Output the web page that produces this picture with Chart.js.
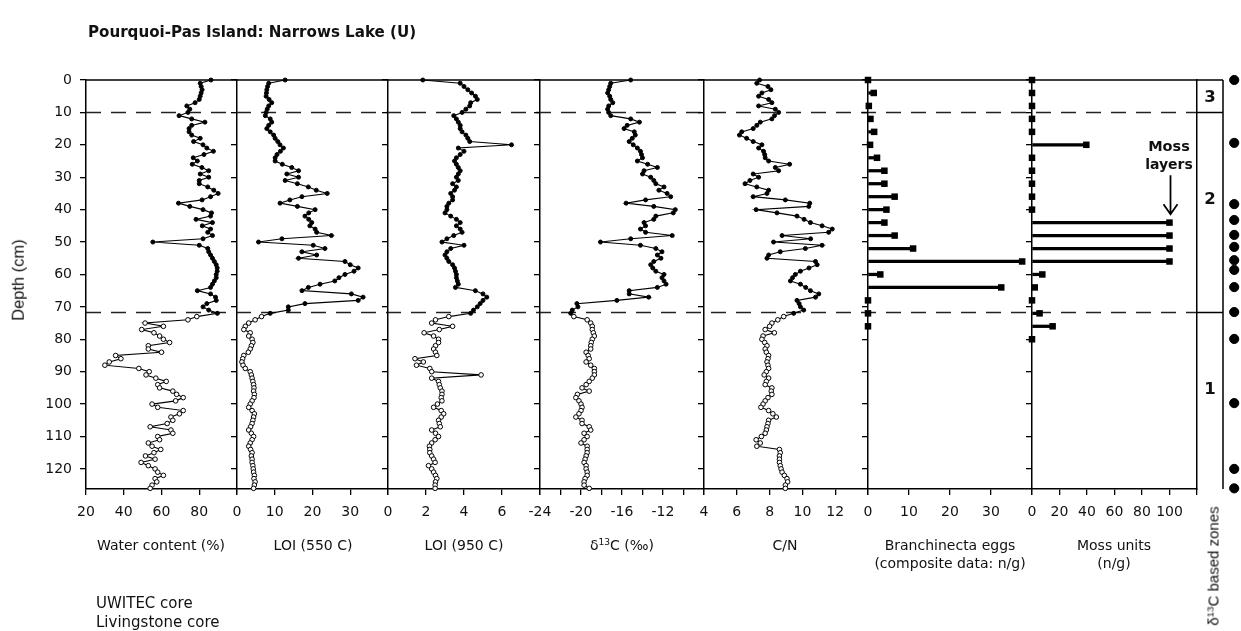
<!DOCTYPE html>
<html>
<head>
<meta charset="utf-8">
<script src="https://cdn.jsdelivr.net/npm/chart.js@4/dist/chart.umd.min.js"></script>
<style>
  body { margin: 0; background: #fff; }
  #wrap { position: relative; width: 1241px; height: 631px; overflow: hidden; font-family: "DejaVu Sans", sans-serif; color: #111; }
  canvas { position: absolute; left: 0; top: 0; }
  .t { position: absolute; white-space: nowrap; line-height: 1; font-size: 14px; transform: translate(-50%, -50%); }
  .l { transform: translate(0, -50%); }
  .v { font-family: "Liberation Sans", Arial, sans-serif; transform: translate(-50%, -50%) rotate(-90deg); }
  sup { font-size: 65%; vertical-align: 0; position: relative; top: -0.5em; }
</style>
</head>
<body>
<div id="wrap"></div>
<script>
// depths (cm)
const upperDepth = [0,1,2,3,4,5,6,7,8,9,10,11,12,13,14,15,16,17,18,19,20,21,22,23,24,25,26,27,28,29,30,31,32,33,34,35,36,37,38,39,40,41,42,43,44,45,46,47,48,49,50,51,52,53,54,55,56,57,58,59,60,61,62,63,64,65,66,67,68,69,70,71,72];
const lowerDepth = [73,74,75,76,77,78,79,80,81,82,83,84,85,86,87,88,89,90,91,92,93,94,95,96,97,98,99,100,101,102,103,104,105,106,107,108,109,110,111,112,113,114,115,116,117,118,119,120,121,122,123,124,125,126];

const waterUpper = [86.2,80.5,81,81.5,81,80.5,80,77.8,73.4,75, 74,69.3,76,83,76,74.6,74.6,76,80.5,77, 82,84,87.5,82.5,76.8,79,76.3,81.4,85,80.5, 85,80,80,84.5,87.7,90,86,81.5,69,75, 82,86.5,86,78.3,87,81.6,86,84.5,87,82, 55.4,80,84.5,85,86,87,88,89,89.5,89.5, 89,89,88,87,86,79,86,88.6,89,84, 82,85,89.6];
const waterLower = [78.7,74,51.3,61,49.5,56,59,61,64.3,53, 53,60,35.7,38.5,32.3,30,48,53.5,51.8,57, 62.5,58,59,66,68,71.5,67.5,55,58,71.5, 69.5,65,66,63,54,65,66,58,59,53, 55,59.6,56,51.5,56.6,49.2,53,56.6,58,61, 56.6,57.5,55,54];

const loi550Upper = [12.75,8.4,8.1,7.9,7.8,7.7,8.5,9.2,8.4,8, 7.7,7.5,8.8,9.2,8.4,7.9,8.8,9.7,10.1,10.8, 11.4,12.3,11.5,10.6,10.1,10.1,12,14.5,16.3,13.2, 16.3,12.75,16,18.9,21,23.9,17.2,14,11.4,16, 20.7,19,18,19,19.8,19.3,20.7,21.1,25,11.9, 5.7,20.2,23.3,17.2,21.1,16.3,28.6,30,32.1,31, 28.6,27,25.9,22,18.9,17.2,30.3,33.4,32.1,18, 13.6,13.6,8.8];
const loi550Lower = [6.5,4.8,3.1,2.2,1.8,3.5,3.1,4,4.2,3.8, 3.5,3,1.8,1.5,1.3,1.6,2.2,3.5,3.8,4, 4.2,4.4,4.5,4.4,4.6,4.5,4,3.5,3.1,4, 4.6,4.4,4.2,4,3.6,3.1,3.8,4.4,4,3.5, 3.1,3.6,4,3.8,4,4,4.2,4.3,4.4,4.6, 4.5,4.8,4.6,4.4];

const loi950Upper = [1.83,3.8,4,4.2,4.4,4.6,4.7,4.35,4.3,4.1, 3.9,3.46,3.6,3.7,3.8,3.8,3.9,4.1,4.2,4.3, 6.5,3.7,4,3.8,3.6,3.5,3.6,3.7,3.8,3.7, 3.6,3.7,3.4,3.6,3.5,3.3,3.4,3.4,3.2,3.1, 3.1,3,3.3,3.6,3.8,3.6,3.8,3.9,3.46,3.1, 2.84,4,3.3,3.1,3,3.1,3.2,3.4,3.5,3.55, 3.6,3.6,3.65,3.7,3.55,4.6,5,5.2,5,4.85, 4.7,4.5,4.35];
const loi950Lower = [3.2,2.5,2.3,3.4,2.7,1.9,2.4,2.66,2.66,2.5, 2.4,2.5,2.57,1.42,1.86,1.5,2.2,2.3,4.9,2.3, 2.66,2.7,2.75,2.84,2.84,2.8,2.84,2.6,2.4,2.8, 2.93,2.8,2.66,2.7,2.75,2.3,2.5,2.66,2.48,2.3, 2.18,2.2,2.2,2.3,2.4,2.48,2.13,2.3,2.4,2.5, 2.57,2.5,2.48,2.48];

const d13cUpper = [-15.15,-17.1,-17.2,-17.3,-17.4,-17.2,-17.1,-16.9,-17.3,-17.4, -17.3,-17.1,-15.15,-14.3,-15.5,-15.8,-14.8,-14.7,-15,-15.3, -14.9,-14.5,-14.2,-14.1,-14,-14.5,-13.5,-12.55,-13.85,-14, -13.2,-12.9,-12.7,-11.9,-12.4,-11.6,-11.25,-13.7,-15.6,-12.9, -10.8,-11,-12.7,-12.9,-13.85,-13.7,-14.2,-13.7,-11.1,-15.15, -18.1,-14.2,-12.7,-12.1,-12.55,-12.2,-12.9,-13.2,-13,-12.7, -11.9,-12.1,-11.9,-11.7,-12.55,-15.3,-15.3,-13.4,-16.5,-20.4, -20.3,-20.85,-21];
const d13cLower = [-20.7,-19.4,-19.05,-18.9,-18.9,-18.8,-18.7,-18.9,-19,-19.05, -19.05,-19.5,-19.3,-19.2,-19.5,-19.05,-18.7,-18.7,-18.7,-18.9, -19.2,-19.5,-19.9,-19.2,-20.35,-20.5,-20.2,-20,-19.9,-20, -20.2,-20.5,-19.9,-19.9,-19.2,-19.05,-19.7,-19.4,-19.7,-20, -19.4,-19.4,-19.4,-19.5,-19.6,-19.7,-19.5,-19.5,-19.4,-19.4, -19.6,-19.7,-19.7,-19.2];

const cnUpper = [7.39,7.22,7.9,8.08,7.53,7.33,7.94,8.14,7.33,8.35, 8.55,8.3,8.14,7.43,7.22,7,6.3,6.16,6.6,7, 7.53,7.33,7.63,7.7,7.73,7.94,9.22,8.35,8.55,7, 7.33,6.8,6.5,7.22,7.94,7.84,7,8.96,10.45,10.39, 7.18,8.45,9.67,10.1,10.49,11.2,11.82,11.6,8.76,10.5, 8.24,11.2,10.18,8.65,7.94,7.84,10.8,10.9,10.4,9.88, 9.57,9.4,9.27,9.88,10.2,10.49,11,10.8,9.67,9.8, 9.88,10.08,9.47];
const cnLower = [8.86,8.5,8.14,8,7.73,8.29,7.6,7.53,7.7,7.84, 7.73,7.8,7.94,7.9,7.84,7.9,7.94,7.8,7.67,7.94, 7.8,7.73,8.14,8.1,8.14,7.9,7.73,7.6,7.47,7.94, 8.2,8.41,7.94,7.9,7.84,7.8,7.73,7.5,7.18,7.43, 7.22,8.6,8.65,8.6,8.6,8.6,8.65,8.7,8.76,8.9, 9.06,9.1,8.96,8.96];

const eggDepth = [0,4,8,12,16,20,24,28,32,36,40,44,48,52,56,60,64,68,72,76];
const eggCount = [0,1.4,0.2,0.6,1.5,0.5,2.2,4,4,6.5,4.5,4,6.5,11,37.6,3,32.5,0,0,0];

const mossDepth = [0,4,8,12,16,20,24,28,32,36,40,44,48,52,56,60,64,68,72,76,80];
const mossCount = [0,0,0,0,0,39.5,0,0,0,0,0,100,100,100,100,7.5,2,0,5.5,15,0];

const datedDepth = [0,19.4,38.3,43.2,47.8,51.5,55.6,58.6,63.9,71.6,79.9,99.7,120,126];

const zoneBreaks = [10, 71.5];
const zoneNames = ["3", "2", "1"];
const zoneNameDepth = [5.4, 37, 95.6];

const depthTicks = [0,10,20,30,40,50,60,70,80,90,100,110,120];

const W = 1241, H = 631, TOP = 80, BOTTOM = 489, DEPTH_MAX = 126.2;
const X_AXIS_H = 40, Y_AXIS_W = 60;
const wrap = document.getElementById("wrap");
const tickFont = { family: "DejaVu Sans", size: 14 };

function newCtx() {
  const c = document.createElement("canvas");
  c.width = W; c.height = H;
  wrap.appendChild(c);
  return c.getContext("2d");
}

function profile(upper, lower) {
  const depth = upperDepth.concat(lowerDepth);
  return upper.concat(lower).map((v, i) => ({ x: v, y: depth[i] }));
}

function lineSet(upper, lower) {
  const n = upperDepth.length;
  return {
    type: "scatter",
    data: profile(upper, lower),
    showLine: true,
    borderColor: "#000",
    borderWidth: 1.1,
    pointRadius: (c) => (c.dataIndex < n ? 2 : 2.3),
    pointBackgroundColor: (c) => (c.dataIndex < n ? "#000" : "#fff"),
    pointBorderColor: "#000",
    pointBorderWidth: 1,
    clip: false,
  };
}

// top frame line and dashed zone boundaries
const framePlugin = {
  id: "frame",
  beforeDatasetsDraw(chart) {
    const { ctx, chartArea: a, scales } = chart;
    ctx.save();
    ctx.strokeStyle = "#222";
    ctx.lineWidth = 1.6;
    ctx.setLineDash([15, 10]);
    ctx.lineDashOffset = a.left - 86;
    zoneBreaks.forEach((d) => {
      const y = Math.round(scales.y.getPixelForValue(d)) + 0.5;
      ctx.beginPath(); ctx.moveTo(a.left, y); ctx.lineTo(a.right, y); ctx.stroke();
    });
    ctx.setLineDash([]);
    ctx.strokeStyle = "#000";
    ctx.lineWidth = 1.5;
    ctx.beginPath(); ctx.moveTo(a.left, a.top); ctx.lineTo(a.right, a.top); ctx.stroke();
    ctx.restore();
  },
};

function panel(left, right, xMin, xMax, step, showLabel, datasets, showDepth, extraPlugins) {
  const yw = showDepth ? Y_AXIS_W : 0;
  return new Chart(newCtx(), {
    type: "scatter",
    data: { datasets: datasets },
    options: {
      responsive: false,
      animation: false,
      events: [],
      layout: { padding: { left: left - yw, right: W - right, top: TOP, bottom: H - BOTTOM - X_AXIS_H } },
      plugins: { legend: { display: false }, tooltip: { enabled: false } },
      scales: {
        x: {
          type: "linear", min: xMin, max: xMax, offset: false,
          afterFit: (s) => { s.height = X_AXIS_H; },
          ticks: { stepSize: step, includeBounds: false, autoSkip: false, maxRotation: 0, font: tickFont, color: "#111", padding: 9,
            callback: (v) => (showLabel(v) ? String(v) : "") },
          grid: { display: true, drawOnChartArea: false, drawTicks: true, tickLength: 6, color: "#000", lineWidth: 1.3, offset: false },
          border: { display: true, color: "#000", width: 1.5 },
        },
        y: {
          type: "linear", reverse: true, min: 0, max: DEPTH_MAX, offset: false,
          afterFit: (s) => { s.width = yw; },
          afterBuildTicks: (s) => { s.ticks = depthTicks.map((v) => ({ value: v })); },
          ticks: { font: tickFont, color: "#111", padding: 8, callback: (v) => (showDepth ? String(v) : "") },
          grid: { display: true, drawOnChartArea: false, drawTicks: true, tickLength: 6, color: "#000", lineWidth: 1.3, offset: false },
          border: { display: true, color: "#000", width: 1.5 },
        },
      },
    },
    plugins: [framePlugin].concat(extraPlugins || []),
  });
}

function stemSets(depths, counts, thick) {
  return [
    {
      type: "bar", indexAxis: "y", grouped: false,
      data: counts.map((v, i) => ({ x: v, y: depths[i] })),
      backgroundColor: "#000", borderWidth: 0, barThickness: thick, clip: false,
    },
    {
      type: "scatter",
      data: counts.map((v, i) => ({ x: v, y: depths[i] })),
      pointStyle: "rect", pointRadius: 4.6, pointBackgroundColor: "#000", pointBorderColor: "#000", pointBorderWidth: 0, clip: false,
    },
  ];
}

panel(86, 237, 20, 100, 20, (v) => v < 100, [lineSet(waterUpper, waterLower)], true);
panel(237, 388, 0, 40, 10, (v) => v < 40, [lineSet(loi550Upper, loi550Lower)], false);
panel(388, 540, 0, 8, 2, (v) => v < 8, [lineSet(loi950Upper, loi950Lower)], false);
panel(540, 704, -24, -8, 2, (v) => v % 4 === 0 && v < -8, [lineSet(d13cUpper, d13cLower)], false);
panel(704, 868, 4, 14, 2, (v) => v < 14, [lineSet(cnUpper, cnLower)], false);
panel(868, 1032, 0, 40, 10, (v) => v < 40, stemSets(eggDepth, eggCount, 2.6), false);

const arrowPlugin = {
  id: "mossArrow",
  afterDatasetsDraw(chart) {
    const { ctx, scales } = chart;
    const x = Math.round(scales.x.getPixelForValue(100)) + 0.5;
    const y1 = scales.y.getPixelForValue(29.4), y2 = scales.y.getPixelForValue(41.4);
    ctx.save();
    ctx.strokeStyle = "#000"; ctx.lineWidth = 1.8;
    ctx.beginPath(); ctx.moveTo(x, y1); ctx.lineTo(x, y2);
    ctx.moveTo(x - 7, y2 - 10); ctx.lineTo(x, y2); ctx.lineTo(x + 7, y2 - 10);
    ctx.stroke();
    ctx.restore();
  },
};
panel(1032, 1197, 0, 120, 20, (v) => v < 120, stemSets(mossDepth, mossCount, 2.6), false, [arrowPlugin]);

// zone column
const zonePlugin = {
  id: "zones",
  afterDraw(chart) {
    const { ctx, chartArea: a, scales } = chart;
    ctx.save();
    ctx.strokeStyle = "#000"; ctx.lineWidth = 1.5;
    ctx.beginPath();
    ctx.moveTo(a.left, a.top); ctx.lineTo(a.right, a.top);
    ctx.moveTo(a.right, a.top); ctx.lineTo(a.right, a.bottom);
    zoneBreaks.forEach((d) => {
      const y = Math.round(scales.y.getPixelForValue(d)) + 0.5;
      ctx.moveTo(a.left, y); ctx.lineTo(a.right, y);
    });
    ctx.stroke();
    ctx.fillStyle = "#111";
    ctx.font = "bold 16.5px 'DejaVu Sans'";
    ctx.textAlign = "center"; ctx.textBaseline = "middle";
    zoneNames.forEach((z, i) => ctx.fillText(z, (a.left + a.right) / 2, scales.y.getPixelForValue(zoneNameDepth[i])));
    ctx.restore();
  },
};
new Chart(newCtx(), {
  type: "scatter",
  data: { datasets: [] },
  options: {
    responsive: false, animation: false, events: [],
    layout: { padding: { left: 1197, right: W - 1223, top: TOP, bottom: H - BOTTOM } },
    plugins: { legend: { display: false }, tooltip: { enabled: false } },
    scales: {
      x: { type: "linear", min: 0, max: 1, display: false },
      y: { type: "linear", reverse: true, min: 0, max: DEPTH_MAX, afterFit: (s) => { s.width = 0; },
        ticks: { display: false }, grid: { display: false }, border: { display: true, color: "#000", width: 1.5 } },
    },
  },
  plugins: [zonePlugin],
});

// dated levels
new Chart(newCtx(), {
  type: "scatter",
  data: { datasets: [{ data: datedDepth.map((d) => ({ x: 0, y: d })), pointRadius: 4.6, pointBackgroundColor: "#000", pointBorderColor: "#000", clip: false }] },
  options: {
    responsive: false, animation: false, events: [],
    layout: { padding: { left: 1233, right: 0, top: TOP, bottom: H - BOTTOM } },
    plugins: { legend: { display: false }, tooltip: { enabled: false } },
    scales: {
      x: { type: "linear", min: -1, max: 1, display: false },
      y: { type: "linear", reverse: true, min: 0, max: DEPTH_MAX, display: false },
    },
  },
});

// text
const labels = [
  ["t l", 88, 33, "Pourquoi-Pas Island: Narrows Lake (U)", "font-weight:bold;font-size:15.1px"],
  ["t v", 18, 280, "Depth (cm)", "font-size:16.5px"],
  ["t", 161, 545, "Water content (%)", ""],
  ["t", 313, 545, "LOI (550 C)", ""],
  ["t", 464, 545, "LOI (950 C)", ""],
  ["t", 622, 545, "&delta;<sup>13</sup>C (&permil;)", ""],
  ["t", 785, 545, "C/N", ""],
  ["t", 950, 545, "Branchinecta eggs", ""],
  ["t", 950, 563, "(composite data: n/g)", ""],
  ["t", 1114, 545, "Moss units", ""],
  ["t", 1114, 563, "(n/g)", ""],
  ["t v", 1213, 566, "&delta;<sup>13</sup>C based zones", "font-size:15px"],
  ["t l", 96, 603, "UWITEC core", "font-size:15px"],
  ["t l", 96, 622, "Livingstone core", "font-size:15px"],
  ["t", 1169, 146, "Moss", "font-weight:bold;font-size:14.5px"],
  ["t", 1169, 164, "layers", "font-weight:bold;font-size:14px"],
];
labels.forEach(([cls, x, y, html, style]) => {
  const d = document.createElement("div");
  d.className = cls;
  d.style.cssText = "left:" + x + "px;top:" + y + "px;" + style;
  d.innerHTML = html;
  wrap.appendChild(d);
});
</script>
</body>
</html>
